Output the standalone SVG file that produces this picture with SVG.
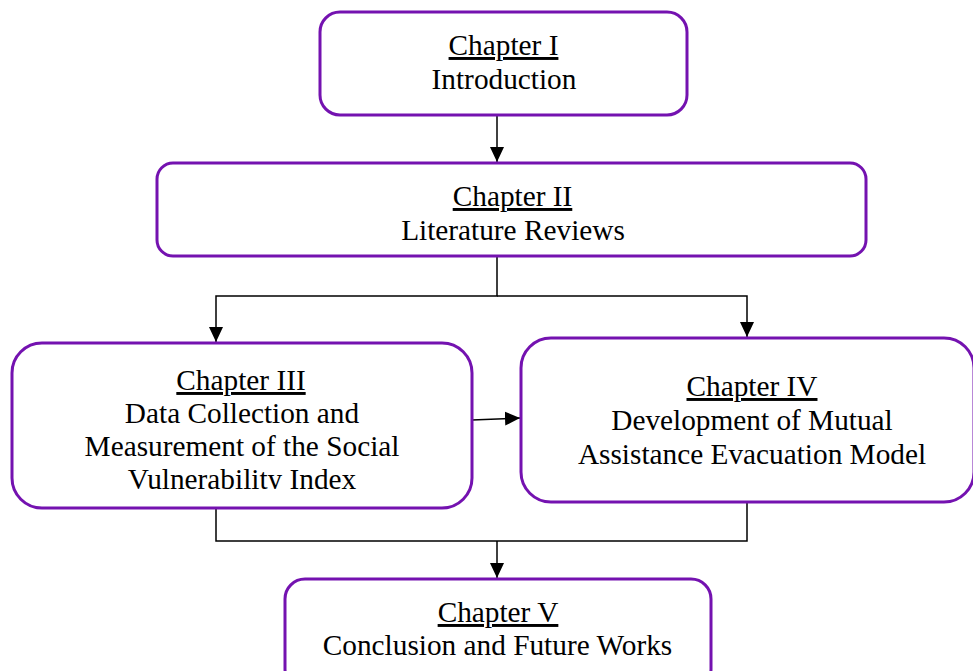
<svg xmlns="http://www.w3.org/2000/svg" width="973" height="671" viewBox="0 0 973 671">
  <style>
    .box { fill: #ffffff; stroke: #7412b0; stroke-width: 3; }
    .lbl { font-family: "Liberation Serif", "Times New Roman", serif; font-size: 29.3px; fill: #000000; text-anchor: middle; }
    .head { text-decoration: underline; }
    .wire { fill: none; stroke: #000000; stroke-width: 1.5; }
  </style>
  <defs>
    <marker id="arrow" markerUnits="userSpaceOnUse" markerWidth="16" markerHeight="16" viewBox="0 0 16 16" refX="15" refY="8" orient="auto">
      <path d="M0,1 L15,8 L0,15 Z" fill="#000000"/>
    </marker>
    <clipPath id="clip3">
      <rect x="12" y="343" width="460" height="146"/>
    </clipPath>
  </defs>
  <rect width="973" height="671" fill="#ffffff"/>

  <g id="connectors">
    <line class="wire" x1="497" y1="115" x2="497" y2="162" marker-end="url(#arrow)"/>
    <polyline class="wire" points="497,256 497,296 216,296 216,342" marker-end="url(#arrow)"/>
    <polyline class="wire" points="497,296 747,296 747,337" marker-end="url(#arrow)"/>
    <line class="wire" x1="472" y1="420" x2="520" y2="418" marker-end="url(#arrow)"/>
    <polyline class="wire" points="216,508 216,541 747,541 747,502"/>
    <line class="wire" x1="497" y1="541" x2="497" y2="578" marker-end="url(#arrow)"/>
  </g>

  <g id="chapter1">
    <rect class="box" x="320" y="12" width="367" height="103" rx="20"/>
    <text class="lbl" x="503.5" y="55"><tspan class="head">Chapter I</tspan></text>
    <text class="lbl" x="504" y="89">Introduction</text>
  </g>

  <g id="chapter2">
    <rect class="box" x="157" y="163" width="709" height="93" rx="16"/>
    <text class="lbl" x="512.5" y="206"><tspan class="head">Chapter II</tspan></text>
    <text class="lbl" x="513" y="240">Literature Reviews</text>
  </g>

  <g id="chapter3">
    <rect class="box" x="12" y="343" width="460" height="165" rx="30"/>
    <g clip-path="url(#clip3)">
      <text class="lbl" x="241" y="390"><tspan class="head">Chapter III</tspan></text>
      <text class="lbl" x="242" y="423">Data Collection and</text>
      <text class="lbl" x="242" y="456">Measurement of the Social</text>
      <text class="lbl" x="242" y="489">Vulnerability Index</text>
    </g>
  </g>

  <g id="chapter4">
    <rect class="box" x="521" y="338" width="453" height="164" rx="30"/>
    <text class="lbl" x="752" y="396"><tspan class="head">Chapter IV</tspan></text>
    <text class="lbl" x="752" y="430">Development of Mutual</text>
    <text class="lbl" x="752" y="464">Assistance Evacuation Model</text>
  </g>

  <g id="chapter5">
    <rect class="box" x="285" y="579" width="426" height="110" rx="20"/>
    <text class="lbl" x="498" y="622"><tspan class="head">Chapter V</tspan></text>
    <text class="lbl" x="497.5" y="655">Conclusion and Future Works</text>
  </g>
</svg>
